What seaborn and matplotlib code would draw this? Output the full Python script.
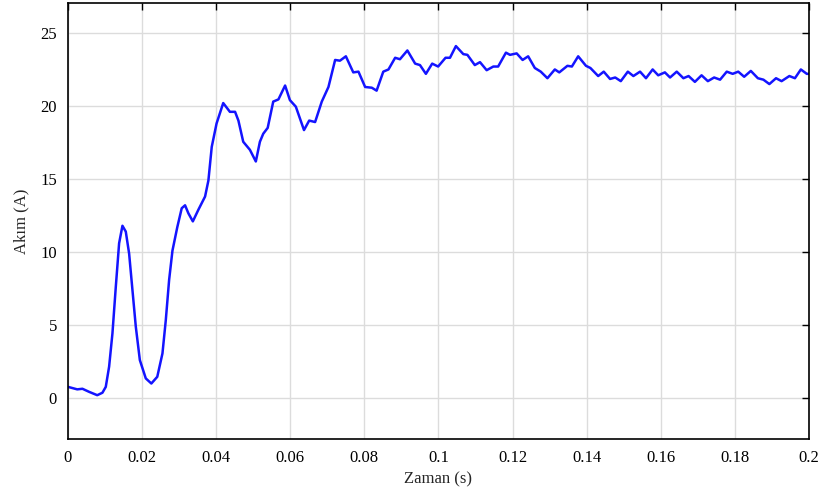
import matplotlib
matplotlib.use("Agg")
import matplotlib.pyplot as plt
import pandas as pd
import seaborn as sns

# Zaman (s) ve akim (A) degerleri
zaman = [0.0000, 0.0025, 0.0039, 0.0057, 0.0079, 0.0093, 0.0102, 0.0111, 0.0120, 0.0129,
         0.0138, 0.0147, 0.0156, 0.0165, 0.0174, 0.0183, 0.0194, 0.0210, 0.0225, 0.0241,
         0.0255, 0.0264, 0.0273, 0.0282, 0.0295, 0.0307, 0.0316, 0.0325, 0.0337, 0.0352,
         0.0370, 0.0379, 0.0388, 0.0401, 0.0419, 0.0437, 0.0451, 0.0460, 0.0473, 0.0491,
         0.0507, 0.0518, 0.0527, 0.0539, 0.0554, 0.0568, 0.0586, 0.0599, 0.0615, 0.0624,
         0.0637, 0.0651, 0.0667, 0.0685, 0.0703, 0.0721, 0.0734, 0.0750, 0.0770, 0.0784,
         0.0802, 0.0820, 0.0833, 0.0851, 0.0865, 0.0883, 0.0896, 0.0916, 0.0937, 0.0950,
         0.0966, 0.0983, 0.0999, 0.1019, 0.1031, 0.1047, 0.1067, 0.1078, 0.1098, 0.1112,
         0.1130, 0.1148, 0.1161, 0.1182, 0.1193, 0.1211, 0.1227, 0.1242, 0.1260, 0.1276,
         0.1294, 0.1314, 0.1326, 0.1348, 0.1360, 0.1377, 0.1398, 0.1410, 0.1431, 0.1446,
         0.1463, 0.1477, 0.1492, 0.1511, 0.1526, 0.1544, 0.1560, 0.1578, 0.1593, 0.1611,
         0.1625, 0.1643, 0.1661, 0.1675, 0.1692, 0.1710, 0.1727, 0.1744, 0.1760, 0.1778,
         0.1794, 0.1809, 0.1825, 0.1843, 0.1862, 0.1877, 0.1893, 0.1911, 0.1926, 0.1947,
         0.1962, 0.1978, 0.1994, 0.2000]
akim = [0.77, 0.60, 0.64, 0.43, 0.20, 0.37, 0.77, 2.15, 4.43, 7.6,
        10.6, 11.8, 11.4, 9.9, 7.4, 4.9, 2.6, 1.35, 1.0, 1.46,
        3.06, 5.34, 8.1, 10.1, 11.7, 13.0, 13.2, 12.65, 12.1, 12.9,
        13.8, 14.9, 17.2, 18.8, 20.2, 19.6, 19.6, 19.0, 17.55, 17.0,
        16.2, 17.55, 18.1, 18.5, 20.3, 20.45, 21.4, 20.4, 19.95, 19.3,
        18.35, 19.0, 18.9, 20.3, 21.3, 23.15, 23.1, 23.4, 22.3, 22.35,
        21.3, 21.25, 21.05, 22.35, 22.5, 23.3, 23.2, 23.8, 22.9, 22.8,
        22.2, 22.9, 22.7, 23.3, 23.3, 24.1, 23.55, 23.5, 22.8, 23.0,
        22.45, 22.7, 22.7, 23.65, 23.5, 23.6, 23.15, 23.4, 22.6, 22.35,
        21.9, 22.5, 22.3, 22.75, 22.7, 23.4, 22.75, 22.6, 22.05, 22.35,
        21.85, 21.95, 21.7, 22.35, 22.05, 22.35, 21.9, 22.5, 22.1, 22.3,
        21.95, 22.35, 21.9, 22.05, 21.65, 22.1, 21.7, 21.95, 21.8, 22.35,
        22.2, 22.35, 22.0, 22.4, 21.9, 21.8, 21.5, 21.9, 21.7, 22.05,
        21.9, 22.5, 22.2, 22.2]

x_ticks = [0, 0.02, 0.04, 0.06, 0.08, 0.1, 0.12, 0.14, 0.16, 0.18, 0.2]
x_tick_labels = ['0', '0.02', '0.04', '0.06', '0.08', '0.1', '0.12', '0.14', '0.16', '0.18', '0.2']
y_ticks = [0, 5, 10, 15, 20, 25]

df = pd.DataFrame({'Zaman': zaman, 'Akim': akim})

sns.set_style('whitegrid')
plt.rcParams['font.family'] = ['Liberation Serif', 'DejaVu Serif']

fig = plt.figure(figsize=(8.24, 4.99), dpi=100)
ax = fig.add_axes([0.0825, 0.1202, 0.8993, 0.8738])

sns.lineplot(data=df, x='Zaman', y='Akim', color='#1414ff', linewidth=1.8, ax=ax,
             sort=False, estimator=None)
ax.lines[0].set_solid_joinstyle('round')

ax.set_xlim(0, 0.2)
ax.set_ylim(-2.8, 27.05)
ax.set_xticks(x_ticks)
ax.set_xticklabels(x_tick_labels)
ax.set_yticks(y_ticks)
ax.set_xlabel('Zaman (s)', fontsize=12, labelpad=4)
ax.set_ylabel('Akım (A)', fontsize=12, labelpad=8)

ax.grid(True, color='#dcdcdc', linewidth=1.0)
for s in ax.spines.values():
    s.set_color('black')
    s.set_linewidth(1.2)
ax.tick_params(direction='in', length=5, width=1, top=True, right=True,
               labelsize=12, colors='black', pad=8)

plt.savefig('out.png', dpi=100)
